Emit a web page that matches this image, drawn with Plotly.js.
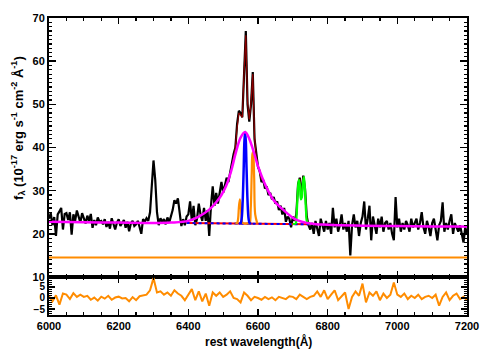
<!DOCTYPE html>
<html>
<head>
<meta charset="utf-8">
<script src="https://cdn.plot.ly/plotly-3.0.1.min.js"></script>
<style>html,body{margin:0;padding:0;background:#fff}#chart{width:491px;height:350px}</style>
</head>
<body>
<div id="chart"></div>
<script>
// ---- observed spectrum (5 A grid starting at 6000 A) ----
const waveStart = 6000;
const waveStep = 5;
const flux = [
  23.5, 24.8, 22.0, 23.9, 19.5, 24.5, 25.2, 26.0, 21.0, 24.6,   // 6000
  24.8, 23.2, 25.0, 19.8, 24.5, 23.0, 25.4, 24.0, 22.6, 24.8,   // 6050
  23.6, 22.4, 24.2, 23.0, 24.6, 21.4, 23.2, 22.0, 23.8, 22.8,   // 6100
  23.0, 22.2, 23.4, 21.6, 22.8, 21.2, 23.6, 22.4, 21.0, 22.6,   // 6150
  23.4, 21.8, 22.6, 23.2, 21.4, 22.8, 20.6, 22.4, 23.0, 21.8,   // 6200
  22.2, 23.0, 21.6, 20.0, 23.4, 22.8, 23.6, 23.0, 25.0, 30.5,   // 6250
  37.0, 32.5, 25.0, 22.0, 23.6, 22.8, 23.4, 22.2, 23.8, 22.6,   // 6300
  24.0, 25.5, 27.8, 27.0, 28.2, 24.5, 21.8, 23.4, 22.0, 24.0,   // 6350
  24.5, 27.5, 23.0, 26.5, 22.0, 23.5, 27.0, 24.5, 23.0, 26.0,   // 6400
  23.0, 25.5, 19.5, 26.5, 31.0, 26.5, 29.5, 27.0, 30.0, 32.0,   // 6450
  29.5, 31.5, 33.0, 32.0, 34.5, 36.0, 38.5, 40.0, 45.5, 48.5,   // 6500
  48.0, 47.0, 58.0, 67.0, 50.0, 46.0, 50.0, 57.5, 42.0, 38.0,   // 6550
  35.5, 34.5, 32.0, 32.5, 30.5, 31.0, 29.0, 29.5, 28.0, 28.5,   // 6600
  27.0, 27.5, 25.5, 26.5, 24.5, 26.0, 22.8, 24.0, 23.5, 21.5,   // 6650
  24.0, 23.0, 24.5, 31.5, 33.0, 28.5, 33.5, 30.5, 24.0, 22.0,   // 6700
  21.0, 22.5, 20.0, 23.0, 21.5, 19.5, 23.5, 22.0, 20.5, 23.0,   // 6750
  21.0, 22.5, 20.0, 26.0, 21.5, 23.5, 20.5, 22.0, 24.5, 21.0,   // 6800
  22.5, 20.5, 23.0, 15.0, 22.0, 24.5, 21.5, 23.0, 19.5, 22.5,   // 6850
  24.0, 27.5, 21.0, 23.5, 26.5, 18.5, 24.0, 22.0, 20.0, 23.5,   // 6900
  21.5, 24.0, 20.5, 22.5, 23.0, 21.0, 22.5, 20.0, 18.5, 28.5,   // 6950
  21.5, 23.5, 20.5, 22.5, 21.0, 23.0, 22.0, 20.5, 23.5, 21.5,   // 7000
  22.5, 23.5, 21.0, 22.5, 25.0, 21.5, 20.0, 23.0, 21.5, 19.5,   // 7050
  22.5, 23.5, 21.0, 18.5, 22.0, 23.0, 27.3, 20.5, 22.5, 21.0,   // 7100
  23.0, 24.5, 20.0, 22.5, 21.5, 20.5, 22.0, 20.0, 18.0, 21.5,   // 7150
  20.0                                                          // 7200
];
const wave = flux.map((_, i) => waveStart + i * waveStep);

// ---- total model (dark red) ----
const modelWave = [6525, 6530, 6535, 6540, 6545, 6550, 6555, 6560, 6565, 6570, 6575, 6580, 6585, 6590, 6595, 6600, 6605, 6610,
                   null,
                   6705, 6710, 6715, 6720, 6725, 6730, 6735, 6740, 6745];
const modelFlux = [35.5, 37.5, 40.0, 44.5, 48.0, 47.5, 47.0, 57.5, 66.0, 50.5, 46.5, 50.5, 57.0, 42.5, 38.0, 35.8, 34.0, 32.5,
                   null,
                   23.0, 24.0, 31.0, 32.8, 28.5, 33.2, 30.0, 23.5, 22.4];

// ---- broad component + continuum (magenta) ----
const broadWave = [6000, 6100, 6200, 6300, 6350, 6400, 6430, 6460, 6480, 6495, 6508, 6522, 6537, 6550, 6563, 6575, 6585, 6600, 6623, 6645, 6672, 6709, 6750, 6800, 6900, 7000, 7100, 7200];
const broadFlux = [22.8, 22.7, 22.6, 22.5, 22.6, 23.0, 24.0, 25.6, 27.3, 29.0, 31.0, 34.3, 39.0, 42.3, 43.6, 42.0, 39.7, 35.7, 31.0, 27.8, 25.6, 23.3, 22.4, 22.1, 21.9, 21.8, 21.7, 21.7];

// ---- local continuum (blue/red dotted) ----
const contWave = [6395, 6750];
const contFlux = [22.5, 22.2];

// ---- narrow H-alpha (blue) ----
const haWave = [6545, 6550, 6553, 6556, 6559, 6561, 6563, 6565, 6567, 6570, 6573, 6576, 6581];
const haFlux = [22.4, 22.5, 23.5, 27.5, 35.5, 41.5, 43.6, 41.5, 35.5, 27.5, 23.5, 22.5, 22.4];

// ---- [NII] doublet (orange) ----
const niiWave = [6535, 6540, 6543, 6545, 6548, 6551, 6553, 6556, 6570, 6576, 6579, 6582, 6584, 6586, 6589, 6592, 6598];
const niiFlux = [22.4, 22.5, 23.6, 26.0, 28.0, 26.0, 23.6, 22.5, 22.4, 22.5, 25.5, 34.0, 38.5, 39.0, 33.0, 24.5, 22.4];

// ---- [SII] doublet (green) ----
const siiWave = [6700, 6708, 6711, 6714, 6717, 6720, 6723, 6726, 6729, 6732, 6735, 6738, 6741, 6750];
const siiFlux = [22.3, 22.4, 24.5, 29.5, 32.5, 31.5, 28.0, 28.5, 32.0, 33.2, 30.0, 25.0, 22.8, 22.3];

// ---- orange reference level ----
const refWave = [6000, 7200];
const refFlux = [14.5, 14.5];

// ---- residuals (10 A grid starting at 6000 A) ----
const residStart = 6000;
const residStep = 10;
const resid = [
  0.8, -1.5, 1.2, -3.0, 2.0, 1.5, -0.5, 2.2, 0.5, 1.5,    // 6000
  0.5, 1.0, -0.8, 0.2, -1.2, 0.6, -0.3, 1.0, -0.8, 0.2,   // 6100
  0.6, -0.2, 0.0, -1.5, 0.4, -1.0, 0.8, 1.2, 1.5, 3.5,    // 6200
  9.0, 2.5, 3.0, 1.5, 2.5, 1.0, 3.5, 2.0, 1.0, -1.0,      // 6300
  1.5, 4.0, -1.0, 3.0, -1.5, 2.0, -3.5, 2.5, 1.0, 2.5,    // 6400
  0.5, 1.5, 3.0, 0.0, -0.5, -2.0, 2.5, 1.0, -1.0, 0.5,    // 6500
  0.0, -0.8, 0.5, -0.5, 0.3, -1.0, 0.5, 0.0, -0.5, 0.8,   // 6600
  0.5, -0.5, 1.5, 0.5, -0.5, 0.5, 1.0, 3.0, 0.5, 3.5,     // 6700
  -0.5, 1.5, 3.5, -1.0, 1.0, 2.5, -5.0, 0.5, 3.0, 1.0,    // 6800
  6.5, -2.0, 2.5, 1.0, 3.0, -1.0, 2.0, 0.0, 1.5, 7.0,     // 6900
  1.5, 0.5, 2.0, -0.5, 1.0, 0.0, 1.5, -0.5, 0.5, 1.0,     // 7000
  0.0, 1.5, -3.5, 0.5, 2.5, -1.0, 1.0, 2.0, -0.5, 0.5,    // 7100
  -1.0                                                    // 7200
];
const residWave = resid.map((_, i) => residStart + i * residStep);

const ORANGE = '#ff8c00';
const traces = [
  {x: refWave, y: refFlux, mode: 'lines', line: {color: ORANGE, width: 2}, xaxis: 'x', yaxis: 'y'},
  {x: wave, y: flux, mode: 'lines', line: {color: '#000', width: 2.2}, xaxis: 'x', yaxis: 'y'},
  {x: modelWave, y: modelFlux, mode: 'lines', connectgaps: false, line: {color: '#8b0000', width: 1.2}, xaxis: 'x', yaxis: 'y'},
  {x: contWave, y: contFlux, mode: 'lines', line: {color: '#ff0000', width: 2}, xaxis: 'x', yaxis: 'y'},
  {x: contWave, y: contFlux, mode: 'lines', line: {color: '#0000ff', width: 2, dash: 'dot'}, xaxis: 'x', yaxis: 'y'},
  {x: niiWave, y: niiFlux, mode: 'lines', line: {color: ORANGE, width: 2.2, shape: 'spline'}, xaxis: 'x', yaxis: 'y'},
  {x: haWave, y: haFlux, mode: 'lines', line: {color: '#0000ff', width: 2.5, shape: 'spline'}, xaxis: 'x', yaxis: 'y'},
  {x: siiWave, y: siiFlux, mode: 'lines', line: {color: '#00ff00', width: 2.2, shape: 'spline'}, xaxis: 'x', yaxis: 'y'},
  {x: broadWave, y: broadFlux, mode: 'lines', line: {color: '#ff00ff', width: 2.5, shape: 'spline'}, xaxis: 'x', yaxis: 'y'},
  {x: residWave, y: resid, mode: 'lines', line: {color: ORANGE, width: 2}, xaxis: 'x2', yaxis: 'y2'}
];

const FAM = 'Liberation Sans, Arial, Helvetica, sans-serif';
const tickFont = {family: FAM, size: 11, color: '#000', weight: 700};
const smallFont = {family: FAM, size: 10, color: '#000', weight: 700};
const axBase = {
  showline: true, linecolor: '#000', linewidth: 2, mirror: 'ticks',
  ticks: 'inside', tickcolor: '#000', tickwidth: 1.5,
  showgrid: false, zeroline: false, tickfont: tickFont
};
const mainFrac = 38 / 297;
const layout = {
  width: 491, height: 350,
  margin: {l: 49, r: 24, t: 18, b: 35, pad: 0},
  paper_bgcolor: '#fff', plot_bgcolor: '#fff',
  showlegend: false,
  font: tickFont,
  xaxis: Object.assign({}, axBase, {
    domain: [0, 1], range: [6000, 7200], anchor: 'y',
    tick0: 6000, dtick: 200, ticklen: 6, showticklabels: false,
    minor: {dtick: 50, ticklen: 3, tickcolor: '#000', tickwidth: 1.2, ticks: 'inside'}
  }),
  yaxis: Object.assign({}, axBase, {
    domain: [mainFrac, 1], range: [10, 70], anchor: 'x',
    tick0: 10, dtick: 10, ticklen: 7,
    minor: {dtick: 1, ticklen: 3, tickcolor: '#000', tickwidth: 1.2, ticks: 'inside'}
  }),
  xaxis2: Object.assign({}, axBase, {
    domain: [0, 1], range: [6000, 7200], anchor: 'y2',
    tick0: 6000, dtick: 200, ticklen: 6,
    minor: {dtick: 50, ticklen: 3, tickcolor: '#000', tickwidth: 1.2, ticks: 'inside'}
  }),
  yaxis2: Object.assign({}, axBase, {
    domain: [0, mainFrac], range: [-7.7, 9.5], anchor: 'x2',
    tick0: 0, dtick: 5, ticklen: 6, tickfont: smallFont,
    minor: {dtick: 1, ticklen: 3, tickcolor: '#000', tickwidth: 1.2, ticks: 'inside'}
  }),
  annotations: [
    {text: 'f<sub>λ</sub> (10<sup>-17</sup> erg s<sup>-1</sup> cm<sup>-2</sup> Å<sup>-1</sup>)',
     xref: 'paper', yref: 'paper', x: -0.074, y: 0.63, xanchor: 'center', yanchor: 'middle',
     textangle: -90, showarrow: false,
     font: {family: FAM, size: 13, color: '#000', weight: 700}},
    {text: 'rest wavelength(Å)', xref: 'paper', yref: 'paper', x: 0.5, y: -0.058,
     xanchor: 'center', yanchor: 'top', showarrow: false,
     font: {family: FAM, size: 12, color: '#000', weight: 700}}
  ]
};

Plotly.newPlot('chart', traces, layout, {staticPlot: true, displayModeBar: false});
</script>
</body>
</html>
